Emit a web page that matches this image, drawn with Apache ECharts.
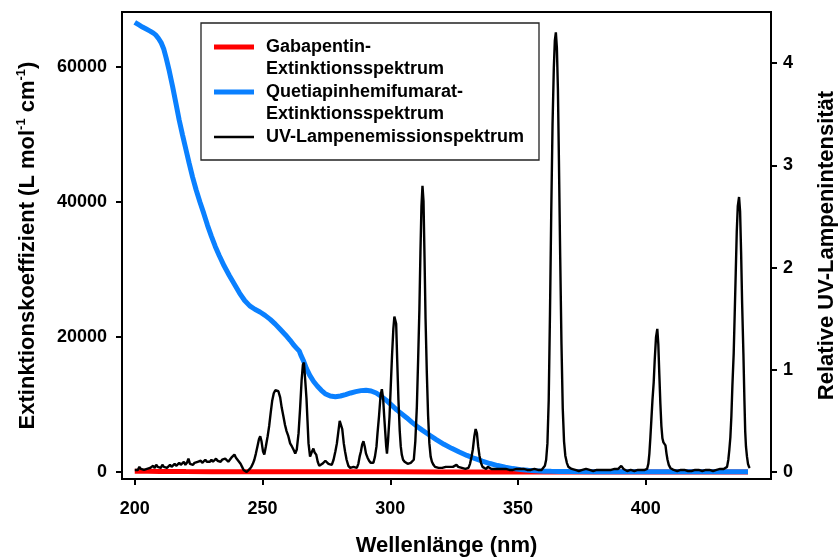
<!DOCTYPE html>
<html>
<head>
<meta charset="utf-8">
<script src="https://cdn.jsdelivr.net/npm/echarts@6/dist/echarts.min.js"></script>
<style>
  html, body { margin: 0; padding: 0; background: #fff; }
  #chart { width: 839px; height: 559px; }
</style>
</head>
<body>
<div id="chart"></div>
<script>
const FONT = '"Liberation Sans", Arial, Helvetica, sans-serif';

// Axis tick positions
const xTicks = [200, 250, 300, 350, 400];
const epsTicks = [0, 20000, 40000, 60000];
const lampTicks = [0, 1, 2, 3, 4];

const seriesNames = [
  'Gabapentin-\nExtinktionsspektrum',
  'Quetiapinhemifumarat-\nExtinktionsspektrum',
  'UV-Lampenemissionspektrum'
];

// Gabapentin molar absorptivity (L mol^-1 cm^-1)
const gabaWl  = [200, 205, 210, 220, 230, 240, 250, 260, 280, 300, 320, 340, 360, 380, 400, 420, 440];
const gabaEps = [120, 100, 80, 60, 50, 40, 30, 30, 20, 20, 15, 10, 10, 10, 10, 10, 10];

// Quetiapine hemifumarate molar absorptivity (L mol^-1 cm^-1)
const quetWl = [
  200.0, 200.5, 201.5, 203.0, 204.5, 206.0, 207.3, 208.3, 209.3, 210.3,
  211.3, 212.3, 213.5, 214.8, 216.1, 217.4, 218.7, 220.0, 221.3, 222.6,
  224.0, 225.5, 227.0, 228.5, 230.0, 231.5, 233.0, 235.0, 237.0, 239.0,
  241.0, 243.0, 245.0, 247.0, 249.0, 251.0, 253.0, 255.0, 257.0, 259.0,
  260.8, 262.2, 263.3, 263.9, 264.4, 265.0, 266.0, 267.2, 268.5, 270.0,
  271.5, 273.0, 274.5, 276.5, 278.5, 280.5, 282.5, 284.5, 286.5, 288.5,
  290.5, 292.5, 294.5, 296.5, 298.5, 300.5, 302.5, 304.5, 306.5, 308.5,
  310.5, 312.5, 315.0, 318.0, 321.0, 324.0, 327.0, 330.0, 333.0, 336.0,
  339.0, 342.0, 345.0, 348.0, 351.0, 354.0, 357.0, 360.0, 363.0, 366.0,
  370.0, 380.0, 400.0, 420.0, 440.0
];
const quetEps = [
  66600, 66500, 66250, 65900, 65600, 65300, 65000, 64700, 64200, 63600,
  62700, 61300, 59400, 57100, 54600, 52100, 49900, 47800, 45700, 43700,
  41800, 40000, 38300, 36500, 34900, 33400, 32100, 30500, 29100, 27800,
  26500, 25400, 24600, 24100, 23700, 23200, 22600, 21900, 21100, 20300,
  19500, 18800, 18350, 18250, 17900, 17300, 16500, 15300, 14300, 13400,
  12700, 12100, 11600, 11250, 11150, 11250, 11450, 11700, 11900, 12050,
  12100, 12000, 11700, 11200, 10600, 9900, 9200, 8600, 8000, 7350,
  6750, 6200, 5550, 4800, 4100, 3500, 2950, 2450, 2000, 1600,
  1250, 950, 700, 500, 350, 250, 170, 120, 90, 70,
  60, 50, 50, 50, 50
];

// Relative emission of the UV lamp
const lampWl = [
  200.0, 200.6, 201.2, 201.8, 202.4, 203.0, 203.6, 204.2, 204.8, 205.4,
  206.0, 206.6, 207.2, 207.8, 208.4, 209.0, 209.6, 210.2, 210.8, 211.4,
  212.0, 212.6, 213.2, 213.8, 214.4, 215.0, 215.6, 216.2, 216.8, 217.4,
  218.0, 218.6, 219.2, 219.8, 220.4, 221.0, 221.6, 222.2, 222.8, 223.4,
  224.0, 224.6, 225.2, 225.8, 226.4, 227.0, 227.6, 228.2, 228.8, 229.4,
  230.0, 230.6, 231.2, 231.8, 232.4, 233.0, 233.6, 234.2, 234.8, 235.4,
  236.0, 236.6, 237.2, 237.8, 238.4, 239.0, 239.6, 240.2, 240.8, 241.4,
  242.0, 242.6, 243.2, 243.8, 244.4, 245.0, 245.6, 246.2, 246.8, 247.4,
  248.0, 248.6, 249.1, 249.6, 250.2, 250.7, 251.3, 252.0, 252.6, 253.2,
  253.8, 254.4, 255.0, 255.6, 256.2, 256.9, 257.5, 258.2, 258.8, 259.4,
  260.1, 260.8, 261.5, 262.1, 262.8, 263.4, 264.1, 264.7, 265.3, 265.8,
  266.2, 266.7, 267.2, 267.6, 268.0, 268.6, 269.2, 269.9, 270.4, 271.0,
  271.6, 272.2, 272.8, 273.4, 274.0, 274.6, 275.2, 275.8, 276.4, 277.1,
  277.8, 278.5, 279.1, 279.7, 280.2, 280.7, 281.2, 281.8, 282.3, 282.9,
  283.6, 284.3, 285.0, 285.6, 286.3, 286.9, 287.5, 288.0, 288.5, 289.0,
  289.5, 290.0, 290.5, 291.1, 291.7, 292.3, 292.9, 293.4, 294.0, 294.6,
  295.0, 295.6, 296.2, 296.7, 297.2, 297.6, 298.0, 298.4, 298.7, 299.1,
  299.7, 300.2, 300.7, 301.2, 301.6, 301.9, 302.3, 302.7, 303.2, 303.7,
  304.1, 304.5, 305.0, 305.6, 306.2, 306.8, 307.4, 308.0, 308.6, 309.2,
  309.8, 310.4, 310.9, 311.4, 311.8, 312.2, 312.6, 313.0, 313.4, 313.8,
  314.3, 314.8, 315.3, 315.8, 316.3, 316.9, 317.5, 318.2, 318.9, 319.6,
  320.3, 321.0, 321.7, 322.4, 323.1, 323.8, 324.5, 325.2, 325.9, 326.6,
  327.3, 328.0, 328.7, 329.4, 330.1, 330.6, 331.2, 331.8, 332.3, 332.9,
  333.4, 333.9, 334.4, 334.9, 335.5, 336.1, 336.8, 337.5, 338.2, 338.9,
  339.6, 340.3, 341.0, 341.7, 342.4, 343.1, 343.8, 344.5, 345.2, 345.9,
  346.6, 347.3, 348.0, 348.7, 349.4, 350.1, 350.8, 351.5, 352.2, 352.9,
  353.6, 354.3, 355.0, 355.7, 356.4, 357.1, 357.8, 358.5, 359.2, 359.9,
  360.5, 361.0, 361.5, 362.0, 362.5, 363.0, 363.5, 364.0, 364.4, 364.8,
  365.2, 365.6, 366.0, 366.5, 367.0, 367.5, 368.0, 368.5, 369.1, 369.7,
  370.3, 371.0, 371.7, 372.4, 373.1, 373.8, 374.5, 375.2, 375.9, 376.6,
  377.3, 378.0, 378.7, 379.4, 380.1, 380.8, 381.5, 382.2, 382.9, 383.6,
  384.3, 385.0, 385.7, 386.4, 387.1, 387.8, 388.5, 389.2, 389.9, 390.4,
  390.8, 391.3, 392.0, 392.7, 393.4, 394.1, 394.8, 395.5, 396.2, 396.9,
  397.6, 398.3, 399.0, 399.6, 400.0, 400.5, 401.0, 401.4, 401.8, 402.2,
  402.6, 403.1, 403.5, 404.0, 404.5, 404.9, 405.3, 405.7, 406.1, 406.5,
  406.9, 407.3, 407.7, 408.1, 408.5, 409.0, 409.6, 410.2, 410.9, 411.6,
  412.3, 413.0, 413.7, 414.4, 415.1, 415.8, 416.5, 417.2, 417.9, 418.6,
  419.3, 420.0, 420.7, 421.4, 422.1, 422.8, 423.5, 424.2, 424.9, 425.6,
  426.3, 427.0, 427.7, 428.4, 429.1, 429.8, 430.5, 431.2, 431.8, 432.3,
  432.7, 433.1, 433.5, 433.9, 434.4, 434.8, 435.2, 435.6, 436.0, 436.5,
  436.9, 437.3, 437.7, 438.2, 438.6, 438.9, 439.2, 439.6, 440.0, 440.4,
  440.7
];
const lampInt = [
  0.02, 0.03, 0.02, 0.05, 0.03, 0.04, 0.02, 0.01, 0.03, 0.02,
  0.04, 0.03, 0.06, 0.04, 0.07, 0.05, 0.06, 0.04, 0.07, 0.05,
  0.06, 0.04, 0.05, 0.07, 0.05, 0.06, 0.08, 0.06, 0.07, 0.09,
  0.07, 0.08, 0.10, 0.07, 0.09, 0.13, 0.08, 0.09, 0.07, 0.09,
  0.08, 0.10, 0.09, 0.11, 0.09, 0.10, 0.12, 0.10, 0.11, 0.10,
  0.12, 0.10, 0.11, 0.13, 0.11, 0.12, 0.10, 0.12, 0.11, 0.13,
  0.12, 0.10, 0.12, 0.14, 0.15, 0.17, 0.14, 0.12, 0.10, 0.08,
  0.05, 0.02, 0.01, 0.00, 0.01, 0.03, 0.05, 0.08, 0.12, 0.18,
  0.25, 0.32, 0.35, 0.30, 0.20, 0.17, 0.25, 0.35, 0.45, 0.58,
  0.70, 0.77, 0.80, 0.81, 0.79, 0.73, 0.63, 0.54, 0.46, 0.40,
  0.35, 0.28, 0.25, 0.22, 0.18, 0.22, 0.38, 0.62, 0.90, 1.05,
  1.07, 0.90, 0.72, 0.50, 0.28, 0.15, 0.19, 0.23, 0.19, 0.17,
  0.10, 0.06, 0.05, 0.08, 0.07, 0.11, 0.12, 0.08, 0.09, 0.07,
  0.12, 0.20, 0.28, 0.40, 0.50, 0.51, 0.42, 0.28, 0.20, 0.12,
  0.06, 0.04, 0.03, 0.05, 0.04, 0.04, 0.08, 0.15, 0.20, 0.27,
  0.30, 0.25, 0.18, 0.14, 0.11, 0.09, 0.08, 0.09, 0.15, 0.25,
  0.38, 0.55, 0.75, 0.81, 0.72, 0.55, 0.40, 0.25, 0.18, 0.30,
  0.54, 0.85, 1.15, 1.40, 1.52, 1.535, 1.45, 1.10, 0.70, 0.40,
  0.25, 0.17, 0.12, 0.10, 0.09, 0.08, 0.09, 0.09, 0.10, 0.12,
  0.30, 0.64, 1.10, 1.60, 2.15, 2.60, 2.80, 2.65, 2.10, 1.50,
  0.97, 0.55, 0.28, 0.15, 0.10, 0.07, 0.05, 0.04, 0.04, 0.05,
  0.04, 0.04, 0.05, 0.04, 0.05, 0.06, 0.05, 0.06, 0.07, 0.05,
  0.06, 0.04, 0.05, 0.03, 0.03, 0.04, 0.08, 0.15, 0.22, 0.35,
  0.42, 0.38, 0.25, 0.16, 0.09, 0.05, 0.04, 0.03, 0.05, 0.04,
  0.03, 0.04, 0.03, 0.04, 0.03, 0.02, 0.03, 0.02, 0.03, 0.02,
  0.02, 0.03, 0.02, 0.02, 0.03, 0.02, 0.03, 0.02, 0.03, 0.02,
  0.02, 0.03, 0.02, 0.02, 0.03, 0.02, 0.02, 0.03, 0.02, 0.03,
  0.06, 0.12, 0.28, 0.70, 1.55, 2.55, 3.40, 3.95, 4.22, 4.30,
  4.15, 3.75, 3.05, 2.10, 1.25, 0.62, 0.30, 0.16, 0.09, 0.05,
  0.04, 0.03, 0.02, 0.02, 0.03, 0.01, 0.02, 0.02, 0.01, 0.03,
  0.02, 0.02, 0.03, 0.01, 0.02, 0.02, 0.03, 0.02, 0.01, 0.02,
  0.03, 0.02, 0.01, 0.02, 0.02, 0.03, 0.02, 0.03, 0.04, 0.06,
  0.05, 0.03, 0.02, 0.01, 0.02, 0.02, 0.03, 0.01, 0.02, 0.02,
  0.01, 0.02, 0.02, 0.02, 0.02, 0.03, 0.08, 0.18, 0.34, 0.52,
  0.70, 0.88, 1.10, 1.32, 1.40, 1.25, 0.95, 0.67, 0.45, 0.33,
  0.29, 0.29, 0.26, 0.18, 0.12, 0.07, 0.04, 0.03, 0.02, 0.02,
  0.01, 0.02, 0.02, 0.01, 0.02, 0.02, 0.01, 0.02, 0.01, 0.02,
  0.02, 0.01, 0.02, 0.02, 0.01, 0.02, 0.02, 0.01, 0.02, 0.02,
  0.01, 0.02, 0.02, 0.02, 0.03, 0.02, 0.03, 0.04, 0.05, 0.12,
  0.22, 0.34, 0.55, 0.85, 1.16, 1.55, 1.95, 2.35, 2.60, 2.69,
  2.55, 2.15, 1.65, 1.16, 0.70, 0.40, 0.25, 0.15, 0.08, 0.05,
  0.04
];

const zip = (xs, ys) => xs.map((x, i) => [x, ys[i]]);

const chart = echarts.init(document.getElementById('chart'), null, { renderer: 'canvas' });

const labelFont = { fontFamily: FONT, fontWeight: 'bold', fontSize: 18, color: '#000' };
const titleFont = { fontFamily: FONT, fontWeight: 'bold', fontSize: 22, color: '#000' };
const axisLineStyle = { color: '#000', width: 2 };
const plainNumber = (v) => String(v);

// A blank first line keeps the swatch level with the first text line
const legendBase = {
  orient: 'vertical', left: 214, padding: 0, icon: 'rect',
  itemWidth: 40, selectedMode: false, itemStyle: { borderWidth: 0 },
  textStyle: {
    fontFamily: FONT, fontWeight: 'bold', fontSize: 18, lineHeight: 22,
    color: '#000', padding: [0, 0, 0, 7]
  }
};

chart.setOption({
  animation: false,
  backgroundColor: '#fff',
  grid: {
    left: 122, right: 68, top: 12, bottom: 80,
    outerBoundsMode: 'none', containLabel: false,
    show: true, borderColor: '#000', borderWidth: 2, backgroundColor: 'transparent'
  },
  legend: [
    Object.assign({}, legendBase, {
      data: [seriesNames[0]], top: 14, itemHeight: 5, formatter: (n) => ' \n' + n
    }),
    Object.assign({}, legendBase, {
      data: [seriesNames[1]], top: 59, itemHeight: 5, formatter: (n) => ' \n' + n
    }),
    Object.assign({}, legendBase, {
      data: [seriesNames[2]], top: 126, itemHeight: 2.5
    })
  ],
  graphic: [{
    type: 'rect', silent: true, z: 10,
    shape: { x: 201, y: 23, width: 338, height: 137 },
    style: { fill: 'none', stroke: '#222', lineWidth: 1.3 }
  }],
  xAxis: {
    type: 'value', min: 195, max: 449,
    splitLine: { show: false },
    axisLine: { show: true, onZero: false, lineStyle: axisLineStyle },
    axisTick: { show: true, length: 6, lineStyle: axisLineStyle, customValues: xTicks },
    axisLabel: Object.assign({ customValues: xTicks, margin: 21, formatter: plainNumber }, labelFont),
    name: 'Wellenlänge (nm)', nameLocation: 'middle', nameGap: 56,
    nameTextStyle: titleFont
  },
  yAxis: [
    {
      type: 'value', position: 'left', min: -1040, max: 68130,
      splitLine: { show: false },
      axisLine: { show: true, onZero: false, lineStyle: axisLineStyle },
      axisTick: { show: true, length: 6, lineStyle: axisLineStyle, customValues: epsTicks },
      axisLabel: Object.assign({ customValues: epsTicks, margin: 15, formatter: plainNumber }, labelFont),
      name: '{t|Extinktionskoeffizient (L mol}{s|-1}{t| cm}{s|-1}{t|)}',
      nameLocation: 'middle', nameRotate: 90, nameGap: 81,
      nameTextStyle: {
        rich: {
          t: { fontFamily: FONT, fontWeight: 'bold', fontSize: 22, color: '#000', lineHeight: 26 },
          s: { fontFamily: FONT, fontWeight: 'bold', fontSize: 13, color: '#000', lineHeight: 14, verticalAlign: 'top' }
        }
      }
    },
    {
      type: 'value', position: 'right', min: -0.0685, max: 4.5,
      splitLine: { show: false },
      axisLine: { show: true, onZero: false, lineStyle: axisLineStyle },
      axisTick: { show: true, length: 6, lineStyle: axisLineStyle, customValues: lampTicks },
      axisLabel: Object.assign({ customValues: lampTicks, margin: 12, formatter: plainNumber }, labelFont),
      name: 'Relative UV-Lampenintensität',
      nameLocation: 'middle', nameRotate: 90, nameGap: 45,
      nameTextStyle: titleFont
    }
  ],
  series: [
    {
      name: seriesNames[0], type: 'line', yAxisIndex: 0,
      data: zip(gabaWl, gabaEps), showSymbol: false, symbol: 'none',
      color: '#ff0000', lineStyle: { color: '#ff0000', width: 5 }, z: 2
    },
    {
      name: seriesNames[1], type: 'line', yAxisIndex: 0,
      data: zip(quetWl, quetEps), showSymbol: false, symbol: 'none',
      color: '#0a80ff', lineStyle: { color: '#0a80ff', width: 5 }, z: 3
    },
    {
      name: seriesNames[2], type: 'line', yAxisIndex: 1,
      data: zip(lampWl, lampInt), showSymbol: false, symbol: 'none',
      color: '#000000', lineStyle: { color: '#000000', width: 2.4 }, z: 4
    }
  ]
});
</script>
</body>
</html>
